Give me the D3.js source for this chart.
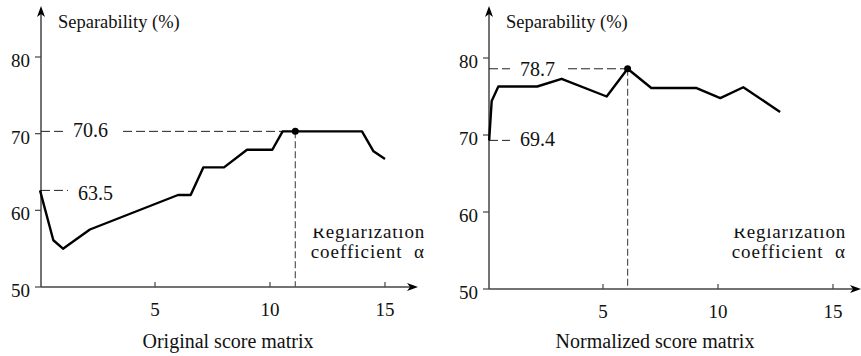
<!DOCTYPE html>
<html lang="en">
<head>
<meta charset="utf-8">
<title>Separability vs regularization coefficient</title>
<script src="https://cdn.jsdelivr.net/npm/d3@7/dist/d3.min.js"></script>
<style>
  body { margin: 0; background: #fff; }
  svg text { font-family: "Liberation Serif", "Times New Roman", serif; fill: #111; }
</style>
</head>
<body>
<script>
// ---- data ----
var alphaOrig = [0, 0.58, 1.0, 2.17, 6.0, 6.55, 7.1, 8.0, 9.0, 10.1, 10.55, 11.1, 14.0, 14.5, 15.0];
var sepOrig   = [62.6, 56.1, 55.0, 57.5, 62.0, 62.0, 65.6, 65.6, 67.9, 67.9, 70.3, 70.3, 70.3, 67.7, 66.7];

var alphaNorm = [0.05, 0.16, 0.45, 2.14, 3.2, 5.16, 6.07, 7.1, 9.07, 10.1, 11.1, 12.7];
var sepNorm   = [69.3, 74.4, 76.3, 76.3, 77.3, 75.0, 78.6, 76.1, 76.1, 74.8, 76.2, 73.0];

var yTicks = [50, 60, 70, 80];
var xTicks = [5, 10, 15];

var yLabel = "Separability (%)";
var xLabel1 = "Reglarization";
var xLabel2 = "coefficient  \u03b1";

// ---- layout ----
var width = 861, height = 356;
var svg = d3.select("body").append("svg")
    .attr("width", width)
    .attr("height", height);

var panels = [
  { title: "Original score matrix", alpha: alphaOrig, sep: sepOrig,
    x0: 40, x15: 385, y50: 287, y80: 57, xEnd: 418, best: 11, titleX: 228, labX: 425,
    notes: [ { idx: 11, text: "70.6", gapFrom: 63, gapTo: 123, dy: 6 },
             { idx: 0, text: "63.5", gapFrom: 68, gapTo: null, dy: 10 } ] },
  { title: "Normalized score matrix", alpha: alphaNorm, sep: sepNorm,
    x0: 488, x15: 833, y50: 289, y80: 58, xEnd: 861, best: 6, titleX: 655, labX: 846,
    notes: [ { idx: 6, text: "78.7", gapFrom: 510, gapTo: 568, dy: 7 },
             { idx: 0, text: "69.4", gapFrom: 510, gapTo: null, dy: 6 } ] }
];

panels.forEach(function(p, k) {
  var x = d3.scaleLinear().domain([0, 15]).range([p.x0, p.x15]);
  var y = d3.scaleLinear().domain([50, 80]).range([p.y50, p.y80]);
  var g = svg.append("g");
  var axisX = x(0) + 1;

  // y axis
  g.append("line")
    .attr("x1", axisX).attr("x2", axisX)
    .attr("y1", y(50)).attr("y2", 12)
    .attr("stroke", "#444").attr("stroke-width", 1.5);
  g.append("path")
    .attr("d", "M" + axisX + ",6 L" + (axisX - 4) + ",17 L" + axisX + ",14 L" + (axisX + 4) + ",17 Z")
    .attr("fill", "#000");

  // x axis
  g.append("line")
    .attr("x1", axisX).attr("x2", p.xEnd - 4)
    .attr("y1", y(50)).attr("y2", y(50))
    .attr("stroke", "#444").attr("stroke-width", 1.5);
  g.append("path")
    .attr("d", "M" + p.xEnd + "," + y(50) + " L" + (p.xEnd - 11) + "," + (y(50) - 4) +
               " L" + (p.xEnd - 8) + "," + y(50) + " L" + (p.xEnd - 11) + "," + (y(50) + 4) + " Z")
    .attr("fill", "#000");

  // y ticks
  g.selectAll(".yt").data(yTicks).enter().append("line")
    .attr("x1", axisX - 6).attr("x2", axisX)
    .attr("y1", function(d) { return y(d); }).attr("y2", function(d) { return y(d); })
    .attr("stroke", "#444").attr("stroke-width", 1.2);
  g.selectAll(".yl").data(yTicks).enter().append("text")
    .attr("x", axisX - 11).attr("y", function(d) { return y(d); })
    .attr("dy", "0.52em")
    .attr("text-anchor", "end")
    .attr("font-size", 19)
    .text(function(d) { return d; });

  // x ticks
  g.selectAll(".xt").data(xTicks).enter().append("line")
    .attr("x1", function(d) { return x(d); }).attr("x2", function(d) { return x(d); })
    .attr("y1", y(50) - 5).attr("y2", y(50))
    .attr("stroke", "#444").attr("stroke-width", 1.2);
  g.selectAll(".xl").data(xTicks).enter().append("text")
    .attr("x", function(d) { return x(d); }).attr("y", y(50) + 29)
    .attr("text-anchor", "middle")
    .attr("font-size", 19)
    .text(function(d) { return d; });

  // axis titles
  g.append("text")
    .attr("x", axisX + 17).attr("y", 28)
    .attr("font-size", 18.5)
    .text(yLabel);

  var clipId = "clip" + k;
  svg.append("clipPath").attr("id", clipId)
    .append("rect").attr("x", p.x0).attr("y", 228.5).attr("width", 420).attr("height", 40);
  var lab = g.append("g").attr("clip-path", "url(#" + clipId + ")");
  lab.append("text")
    .attr("x", p.labX).attr("y", 238)
    .attr("text-anchor", "end").attr("font-size", 19).attr("letter-spacing", 0.8)
    .text(xLabel1);
  lab.append("text")
    .attr("x", p.labX).attr("y", 258)
    .attr("text-anchor", "end").attr("font-size", 19).attr("letter-spacing", 1)
    .style("white-space", "pre")
    .text(xLabel2);

  g.append("text")
    .attr("x", p.titleX).attr("y", 348)
    .attr("text-anchor", "middle")
    .attr("font-size", 20)
    .text(p.title);

  // annotations
  p.notes.forEach(function(n) {
    var yy = y(p.sep[n.idx]);
    g.append("line")
      .attr("x1", axisX).attr("x2", n.gapFrom)
      .attr("y1", yy).attr("y2", yy)
      .attr("stroke", "#222").attr("stroke-width", 1)
      .attr("stroke-dasharray", "9,4");
    if (n.gapTo !== null) {
      g.append("line")
        .attr("x1", n.gapTo).attr("x2", x(p.alpha[n.idx]))
        .attr("y1", yy).attr("y2", yy)
        .attr("stroke", "#222").attr("stroke-width", 1)
        .attr("stroke-dasharray", "9,4");
    }
    g.append("text")
      .attr("x", n.gapFrom + 10).attr("y", yy + n.dy)
      .attr("font-size", 20)
      .text(n.text);
  });

  // vertical dashed line below the optimum
  var bx = x(p.alpha[p.best]), by = y(p.sep[p.best]);
  g.append("line")
    .attr("x1", bx).attr("x2", bx)
    .attr("y1", by).attr("y2", y(50))
    .attr("stroke", "#555").attr("stroke-width", 1.2)
    .attr("stroke-dasharray", "7,3");

  // the curve
  var pts = p.alpha.map(function(a, i) { return [a, p.sep[i]]; });
  var line = d3.line()
    .x(function(d) { return x(d[0]); })
    .y(function(d) { return y(d[1]); });
  g.append("path")
    .datum(pts)
    .attr("d", line)
    .attr("fill", "none")
    .attr("stroke", "#000")
    .attr("stroke-width", 2.4)
    .attr("stroke-linejoin", "round");

  g.append("circle")
    .attr("cx", bx).attr("cy", by).attr("r", 3.5)
    .attr("fill", "#000");
});
</script>
</body>
</html>
